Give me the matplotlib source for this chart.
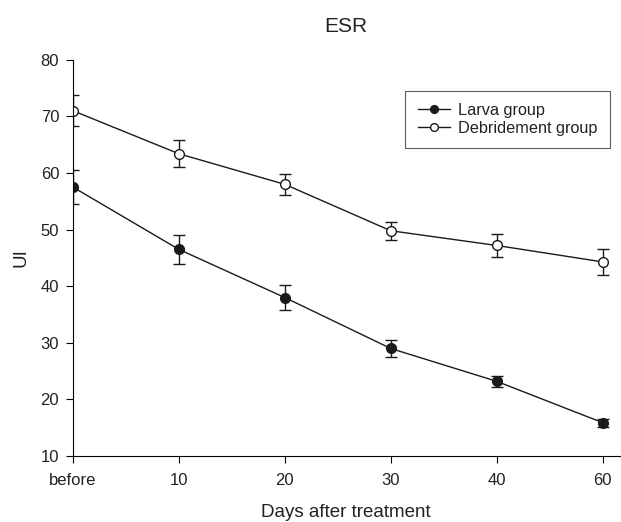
import numpy as np
import matplotlib.pyplot as plt

plt.rcParams['font.family'] = ['Liberation Sans', 'DejaVu Sans']
plt.rcParams['text.color'] = '#222222'
plt.rcParams['axes.labelcolor'] = '#222222'

days = ['before', '10', '20', '30', '40', '60']
larva = [57.5, 46.5, 38.0, 29.0, 23.2, 15.9]
larva_err = [3.0, 2.5, 2.2, 1.5, 1.0, 0.7]
debride = [71.0, 63.4, 58.0, 49.8, 47.2, 44.3]
debride_err = [2.7, 2.4, 1.8, 1.6, 2.1, 2.3]

x = np.arange(len(days))

fig = plt.figure(figsize=(6.21, 5.22), dpi=100)
ax = fig.add_axes([0.1176, 0.1264, 0.88, 0.759])

c1 = ax.errorbar(x, larva, yerr=larva_err, color='#1a1a1a', marker='o', ms=7,
	mfc='#1a1a1a', mec='#1a1a1a', lw=1.0, capsize=4, elinewidth=1.0,
	capthick=1.0, label='Larva group')
c2 = ax.errorbar(x, debride, yerr=debride_err, color='#1a1a1a', marker='o', ms=7,
	mfc='white', mec='#1a1a1a', mew=1.0, lw=1.0, capsize=4, elinewidth=1.0,
	capthick=1.0, label='Debridement group')

ax.set_xlim(0, 5.16)
ax.set_ylim(10, 80)
ax.set_xticks(x)
ax.set_xticklabels(days)
ax.set_yticks(np.arange(10, 81, 10))
ax.tick_params(direction='out', length=5, labelsize=12, pad=5,
	labelcolor='#222222')
ax.tick_params(axis='x', pad=7)
for s in ['top', 'right']:
	ax.spines[s].set_visible(False)
ax.spines['left'].set_position(('data', 0))

ax.set_xlabel('Days after treatment', fontsize=13.5, labelpad=12)
ax.set_ylabel('UI', fontsize=13.5, labelpad=8)
ax.set_title('ESR', fontsize=15, pad=20)

leg = ax.legend(handles=[c1.lines[0], c2.lines[0]],
	labels=['Larva group', 'Debridement group'],
	loc='upper right', bbox_to_anchor=(0.997, 0.943), fontsize=11.7,
	frameon=True, fancybox=False, edgecolor='#333333', handlelength=2.0,
	handletextpad=0.5, borderpad=0.75, labelspacing=0.2, markerscale=0.8)
leg.get_frame().set_linewidth(0.8)

fig.savefig('out.png', dpi=100)
